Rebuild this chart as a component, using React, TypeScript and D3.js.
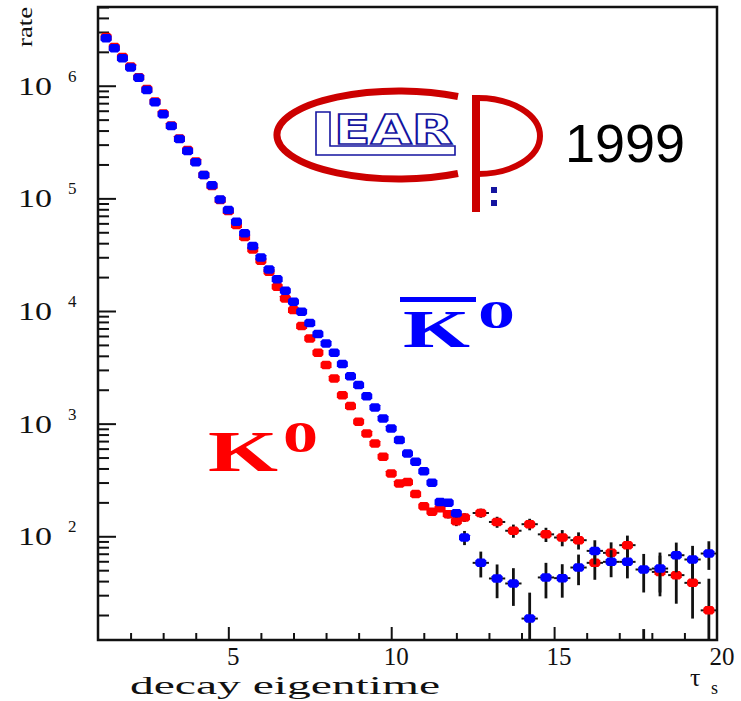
import React, { useEffect, useRef } from 'react';
import * as d3 from 'd3';

// bin centres in units of tau_s (0.25 wide up to 12.25, then 0.5 wide)
const tau = [
  1.25, 1.5, 1.75, 2, 2.25, 2.5, 2.75, 3, 3.25, 3.5, 3.75, 4, 4.25, 4.5, 4.75,
  5, 5.25, 5.5, 5.75, 6, 6.25, 6.5, 6.75, 7, 7.25, 7.5, 7.75, 8, 8.25, 8.5,
  8.75, 9, 9.25, 9.5, 9.75, 10, 10.25, 10.5, 10.75, 11, 11.25, 11.5, 11.75, 12, 12.25,
  12.75, 13.25, 13.75, 14.25, 14.75, 15.25, 15.75, 16.25, 16.75, 17.25, 17.75,
  18.25, 18.75, 19.25, 19.75
];

const rateK0 = [
  2.71e6, 2.21e6, 1.8e6, 1.48e6, 1.19e6, 9.35e5, 7.24e5, 5.66e5, 4.43e5, 3.4e5,
  2.69e5, 2.12e5, 1.61e5, 1.285e5, 9.66e4, 7.71e4, 5.79e4, 4.53e4, 3.52e4, 2.79e4,
  2.23e4, 1.64e4, 1.294e4, 1.019e4, 7350, 5710, 4260, 3310, 2520, 1790,
  1432, 1038, 818, 667, 507, 361, 294, 304, 237, 185, 165, 177, 157, 136, 147,
  161, 134, 112, 128, 104, 97.5, 92.3, 58.1, 71.3, 83.4, 3, 48.3, 45.2, 38.6, 22
];

const rateK0bar = [
  2.64e6, 2.15e6, 1.75e6, 1.45e6, 1.18e6, 9.16e5, 7.12e5, 5.57e5, 4.38e5, 3.36e5,
  2.63e5, 2.09e5, 1.61e5, 1.31e5, 9.79e4, 7.87e4, 6.19e4, 4.89e4, 3.77e4, 2.99e4,
  2.34e4, 1.91e4, 1.51e4, 1.21e4, 9840, 7820, 6240, 5150, 4260, 3380,
  2640, 2200, 1750, 1390, 1110, 906, 714, 543, 458, 378, 298, 202, 198, 160, 97.5,
  58.1, 42.2, 38.1, 18.6, 43.1, 42.5, 52.8, 74.2, 59.3, 59.3, 50.7, 51.7, 67.9, 62.2, 70.3
];

const errK0 = [
  0, 0, 0, 0, 0, 0, 0, 0, 0, 0, 0, 0, 0, 0, 0, 0, 0, 0, 0, 0,
  0, 0, 0, 0, 0, 0, 0, 0, 0, 0, 0, 0, 0, 0, 0, 0, 0, 0,
  12, 13, 13, 13, 13, 13, 13,
  15, 15, 15, 15, 15, 16, 16, 17, 17, 18, 12, 19, 20, 20, 20
];

const errK0bar = [
  0, 0, 0, 0, 0, 0, 0, 0, 0, 0, 0, 0, 0, 0, 0, 0, 0, 0, 0, 0,
  0, 0, 0, 0, 0, 0, 0, 0, 0, 0, 0, 0, 0, 0, 0, 0, 0, 0,
  12, 12, 12, 13, 13, 13, 14,
  15, 14, 14, 13, 15, 14, 16, 18, 16, 17, 19, 20, 20, 20, 20
];

const xLabels = [5, 10, 15, 20];
const yExponents = [2, 3, 4, 5, 6];

const W = 741;
const H = 701;

const octagon = (w, h, c) =>
  `M${-w / 2},${-h / 2 + c}L${-w / 2 + c},${-h / 2}L${w / 2 - c},${-h / 2}L${w / 2},${-h / 2 + c}` +
  `L${w / 2},${h / 2 - c}L${w / 2 - c},${h / 2}L${-w / 2 + c},${h / 2}L${-w / 2},${h / 2 - c}Z`;

const DecayRate = () => {
  const svgRef = useRef<SVGSVGElement>(null);

  useEffect(() => {
    const svg = d3.select(svgRef.current);
    svg.selectAll('*').remove();

    const left = 98, right = 717, top = 7, bottom = 640;
    const x = d3.scaleLinear().domain([1, 20]).range([left, right]);
    const y = d3.scaleLog().domain([12, 5e6]).range([bottom, top]);

    svg.append('rect').attr('width', W).attr('height', H).attr('fill', '#fff');

    svg.append('defs').append('clipPath').attr('id', 'plot-clip')
      .append('rect')
      .attr('x', left).attr('y', top)
      .attr('width', right - left).attr('height', bottom - top);

    // ticks (inside the frame)
    const xMinor = x.ticks(19).filter(d => d > 1 && d < 20 && d % 5 !== 0);
    const xMajor = xLabels.filter(d => d < 20);
    const yAll = y.ticks();
    const yMajor = yAll.filter(d => Math.abs(Math.log10(d) - Math.round(Math.log10(d))) < 1e-9);
    const yMinor = yAll.filter(d => !yMajor.includes(d));

    const tickAxis = (axis, transform) => {
      const g = svg.append('g').attr('transform', transform).call(axis);
      g.select('.domain').remove();
      g.selectAll('line').attr('stroke', '#111').attr('stroke-width', 2);
      g.selectAll('text').remove();
    };
    tickAxis(d3.axisBottom(x).tickValues(xMinor).tickSize(-7).tickSizeOuter(0), `translate(0,${bottom})`);
    tickAxis(d3.axisBottom(x).tickValues(xMajor).tickSize(-13).tickSizeOuter(0), `translate(0,${bottom})`);
    tickAxis(d3.axisLeft(y).tickValues(yMinor).tickSize(-11).tickSizeOuter(0), `translate(${left},0)`);
    tickAxis(d3.axisLeft(y).tickValues(yMajor).tickSize(-18).tickSizeOuter(0), `translate(${left},0)`);

    // frame
    svg.append('rect')
      .attr('x', left).attr('y', top)
      .attr('width', right - left).attr('height', bottom - top)
      .attr('fill', 'none').attr('stroke', '#111').attr('stroke-width', 2.5);

    // data
    const plot = svg.append('g').attr('clip-path', 'url(#plot-clip)');
    const halfBin = t => (t > 12.5 ? 0.25 : 0.125);

    const drawSeries = (values, errs, color) => {
      const pts = tau.map((t, i) => ({ t, v: values[i], e: errs[i] }));
      const g = plot.append('g');
      g.selectAll('line.ex')
        .data(pts)
        .enter()
        .append('line')
        .attr('x1', d => x(d.t - halfBin(d.t)))
        .attr('x2', d => x(d.t + halfBin(d.t)))
        .attr('y1', d => y(d.v))
        .attr('y2', d => y(d.v))
        .attr('stroke', '#111')
        .attr('stroke-width', 2);
      g.selectAll('line.ey')
        .data(pts.filter(d => d.e > 0))
        .enter()
        .append('line')
        .attr('x1', d => x(d.t))
        .attr('x2', d => x(d.t))
        .attr('y1', d => y(Math.max(d.v - d.e, 1)))
        .attr('y2', d => y(d.v + d.e))
        .attr('stroke', '#111')
        .attr('stroke-width', 2.8);
      g.selectAll('path')
        .data(pts)
        .enter()
        .append('path')
        .attr('d', octagon(11, 8.5, 2))
        .attr('transform', d => `translate(${x(d.t)},${y(d.v)})`)
        .attr('fill', color);
    };
    drawSeries(rateK0, errK0, '#ff0000');
    drawSeries(rateK0bar, errK0bar, '#0000ff');

    // tick labels
    const font = '"Liberation Serif", serif';
    xLabels.forEach(v => {
      svg.append('text')
        .attr('x', x(v) + 5)
        .attr('y', 665)
        .attr('text-anchor', 'middle')
        .style('font-family', font)
        .style('font-size', '25px')
        .attr('fill', '#111')
        .text(v);
    });
    yExponents.forEach(p => {
      const yy = y(Math.pow(10, p));
      svg.append('text')
        .attr('x', 18).attr('y', yy + 9)
        .attr('textLength', 34).attr('lengthAdjust', 'spacingAndGlyphs')
        .style('font-family', font).style('font-size', '25px')
        .attr('fill', '#111')
        .text('10');
      svg.append('text')
        .attr('x', 68).attr('y', yy - 4)
        .style('font-family', font).style('font-size', '17px')
        .attr('fill', '#111')
        .text(p);
    });

    // axis titles
    svg.append('text')
      .attr('x', 130).attr('y', 694)
      .attr('textLength', 310).attr('lengthAdjust', 'spacingAndGlyphs')
      .style('font-family', font).style('font-size', '25px')
      .attr('fill', '#111')
      .text('decay eigentime');
    svg.append('text')
      .attr('x', 690).attr('y', 686)
      .style('font-family', font).style('font-size', '26px')
      .attr('fill', '#111')
      .text('τ');
    svg.append('text')
      .attr('x', 711).attr('y', 694)
      .style('font-family', font).style('font-size', '18px')
      .attr('fill', '#111')
      .text('s');
    svg.append('text')
      .attr('transform', 'translate(32,47) rotate(-90)')
      .attr('textLength', 40).attr('lengthAdjust', 'spacingAndGlyphs')
      .style('font-family', font).style('font-size', '22px')
      .attr('fill', '#111')
      .text('rate');

    // K0 / K0bar labels
    const bold = '"Liberation Serif", serif';
    svg.append('rect').attr('x', 400).attr('y', 297).attr('width', 76).attr('height', 5).attr('fill', '#0000ff');
    svg.append('text')
      .attr('x', 403).attr('y', 347)
      .attr('textLength', 67).attr('lengthAdjust', 'spacingAndGlyphs')
      .style('font-family', bold).style('font-weight', 'bold').style('font-size', '52px')
      .attr('fill', '#0000ff').text('K');
    svg.append('text')
      .attr('x', 478).attr('y', 328)
      .attr('textLength', 37).attr('lengthAdjust', 'spacingAndGlyphs')
      .style('font-family', bold).style('font-weight', 'bold').style('font-size', '41px')
      .attr('fill', '#0000ff').text('0');
    svg.append('text')
      .attr('x', 208).attr('y', 471)
      .attr('textLength', 70).attr('lengthAdjust', 'spacingAndGlyphs')
      .style('font-family', bold).style('font-weight', 'bold').style('font-size', '56px')
      .attr('fill', '#ff0000').text('K');
    svg.append('text')
      .attr('x', 283).attr('y', 452)
      .attr('textLength', 35).attr('lengthAdjust', 'spacingAndGlyphs')
      .style('font-family', bold).style('font-weight', 'bold').style('font-size', '44px')
      .attr('fill', '#ff0000').text('0');

    // CPLEAR logo
    const logo = svg.append('g');
    const red = '#cc0000';
    const navy = '#1414a0';
    logo.append('path')
      .attr('d', 'M458,96.5 A122,44 0 1 0 458,173.5')
      .attr('fill', 'none').attr('stroke', red).attr('stroke-width', 7);
    logo.append('rect').attr('x', 472).attr('y', 95).attr('width', 8).attr('height', 117).attr('fill', red);
    logo.append('path')
      .attr('d', 'M478,98 A62,38 0 0 1 478,174')
      .attr('fill', 'none').attr('stroke', red).attr('stroke-width', 6);
    logo.append('rect').attr('x', 491).attr('y', 187).attr('width', 6).attr('height', 6).attr('fill', navy);
    logo.append('rect').attr('x', 491).attr('y', 200).attr('width', 6).attr('height', 6).attr('fill', navy);
    logo.append('path')
      .attr('d', 'M316,112 L330,112 L330,146 L455,146 L455,155 L316,155 Z')
      .attr('fill', '#fff').attr('stroke', navy).attr('stroke-width', 1.6);
    logo.append('text')
      .attr('x', 334).attr('y', 144)
      .attr('textLength', 119).attr('lengthAdjust', 'spacingAndGlyphs')
      .style('font-family', '"DejaVu Sans", sans-serif').style('font-weight', 'bold').style('font-size', '40px')
      .attr('fill', '#fff').attr('stroke', navy).attr('stroke-width', 1.6)
      .text('EAR');

    svg.append('text')
      .attr('x', 565).attr('y', 162)
      .style('font-family', '"Liberation Sans", Arial, sans-serif').style('font-size', '54px')
      .attr('fill', '#000')
      .text('1999');
  }, []);

  return <svg ref={svgRef} width={W} height={H} style={{ display: 'block' }}></svg>;
};

export default function App() {
  return (
    <div style={{ position: 'absolute', left: 0, top: 0 }}>
      <DecayRate />
    </div>
  );
}
